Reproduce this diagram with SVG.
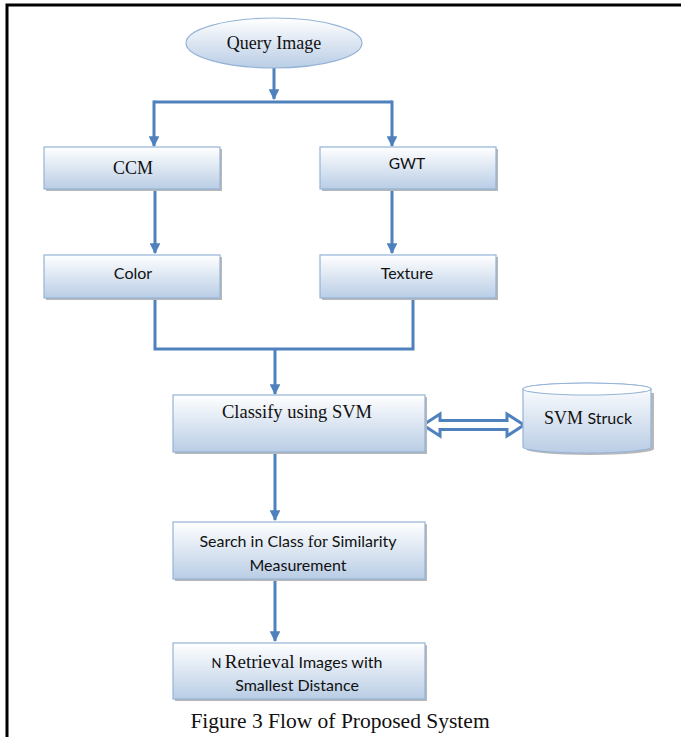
<svg xmlns="http://www.w3.org/2000/svg" width="681" height="737" viewBox="0 0 681 737">
<style>
.box{fill:url(#g);stroke:#95b3d7;stroke-width:1.2}
.sh{fill:#b8b8b8}
.c{fill:none;stroke:#4f81bd;stroke-width:3}
.serif{font-family:"Liberation Serif","Times New Roman",serif;fill:#111}
.sans{font-family:Lato,"Liberation Sans",Arial,sans-serif;fill:#111}
</style>
<defs>
<linearGradient id="g" x1="0" y1="0" x2="0" y2="1">
<stop offset="0" stop-color="#ffffff"/>
<stop offset="1" stop-color="#b9cde5"/>
</linearGradient>
<marker id="ah" viewBox="0 0 10 10" refX="9" refY="5" markerWidth="3.6" markerHeight="3.6" orient="auto" markerUnits="strokeWidth">
<path d="M0,0 L10,5 L0,10 z" fill="#4f81bd"/>
</marker>
</defs>
<rect width="681" height="737" fill="#fff"/>
<path d="M7,737 V5 H681" fill="none" stroke="#000" stroke-width="3"/>

<g id="connectors">
<path class="c" d="M274,68 V99" marker-end="url(#ah)"/>
<path class="c" d="M154,102 H392"/>
<path class="c" d="M154,100.5 V146" marker-end="url(#ah)"/>
<path class="c" d="M392,100.5 V146" marker-end="url(#ah)"/>
<path class="c" d="M155,189 V253" marker-end="url(#ah)"/>
<path class="c" d="M392,189 V253" marker-end="url(#ah)"/>
<path class="c" d="M155,298 V349 H413 V298"/>
<path class="c" d="M275,349 V394" marker-end="url(#ah)"/>
<path class="c" d="M275,452 V520" marker-end="url(#ah)"/>
<path class="c" d="M275,579 V641" marker-end="url(#ah)"/>
<path d="M423,425 L440,414 L440,420.5 L507,420.5 L507,414 L524,425 L507,436 L507,429.5 L440,429.5 L440,436 Z" fill="#fff" stroke="#4f81bd" stroke-width="3" stroke-linejoin="miter"/>
</g>

<g id="query">
<ellipse cx="274" cy="43" rx="88" ry="25" fill="url(#g)" stroke="#95b3d7" stroke-width="1.2"/>
<text class="serif" x="274" y="49" font-size="18" text-anchor="middle">Query Image</text>
</g>

<g id="ccm">
<rect class="sh" x="46" y="149" width="176" height="42"/>
<rect class="box" x="44" y="147" width="176" height="42"/>
<text class="serif" x="133" y="174" font-size="18" text-anchor="middle">CCM</text>
</g>
<g id="gwt">
<rect class="sh" x="322" y="149" width="176" height="42"/>
<rect class="box" x="320" y="147" width="176" height="42"/>
<text class="sans" x="407" y="169" font-size="15.5" text-anchor="middle">GWT</text>
</g>
<g id="color">
<rect class="sh" x="46" y="257" width="176" height="43"/>
<rect class="box" x="44" y="255" width="176" height="43"/>
<text class="sans" x="133" y="279" font-size="16" text-anchor="middle">Color</text>
</g>
<g id="texture">
<rect class="sh" x="322" y="257" width="176" height="43"/>
<rect class="box" x="320" y="255" width="176" height="43"/>
<text class="sans" x="407" y="279" font-size="16" text-anchor="middle">Texture</text>
</g>
<g id="classify">
<rect class="sh" x="175" y="397" width="252" height="57"/>
<rect class="box" x="173" y="395" width="252" height="57"/>
<text class="serif" x="297" y="418" font-size="18.5" text-anchor="middle">Classify using SVM</text>
</g>
<g id="svmstruck">
<path d="M525,391 V447 A64,6 0 0 0 653,447 V391" fill="#b8b8b8" transform="translate(1,2)"/>
<path d="M523,389 V447 A64,6 0 0 0 651,447 V389 A64,6 0 0 0 523,389 Z" fill="url(#g)" stroke="#95b3d7" stroke-width="1.2"/>
<ellipse cx="587" cy="389" rx="64" ry="6" fill="#fff" stroke="#95b3d7" stroke-width="1.2"/>
<text x="588" y="424" font-size="18" text-anchor="middle"><tspan class="serif">SVM </tspan><tspan class="sans" font-size="16">Struck</tspan></text>
</g>
<g id="search">
<rect class="sh" x="175" y="524" width="252" height="57"/>
<rect class="box" x="173" y="522" width="252" height="57"/>
<text x="298" y="547" font-size="16" text-anchor="middle"><tspan class="sans">Search in Class </tspan><tspan class="serif" font-size="17">for</tspan><tspan class="sans"> Similarity</tspan></text>
<text class="sans" x="298" y="571" font-size="16" text-anchor="middle">Measurement</text>
</g>
<g id="retrieval">
<rect class="sh" x="175" y="645" width="252" height="56"/>
<rect class="box" x="173" y="643" width="252" height="56"/>
<text x="297" y="668" font-size="16" text-anchor="middle"><tspan class="sans" font-size="13">N </tspan><tspan class="serif" font-size="19">Retrieval</tspan><tspan class="sans"> Images with</tspan></text>
<text class="sans" x="297" y="691" font-size="16" text-anchor="middle">Smallest Distance</text>
</g>
<text class="serif" x="340" y="728" font-size="21.5" text-anchor="middle" fill="#000">Figure 3 Flow of Proposed System</text>
</svg>
